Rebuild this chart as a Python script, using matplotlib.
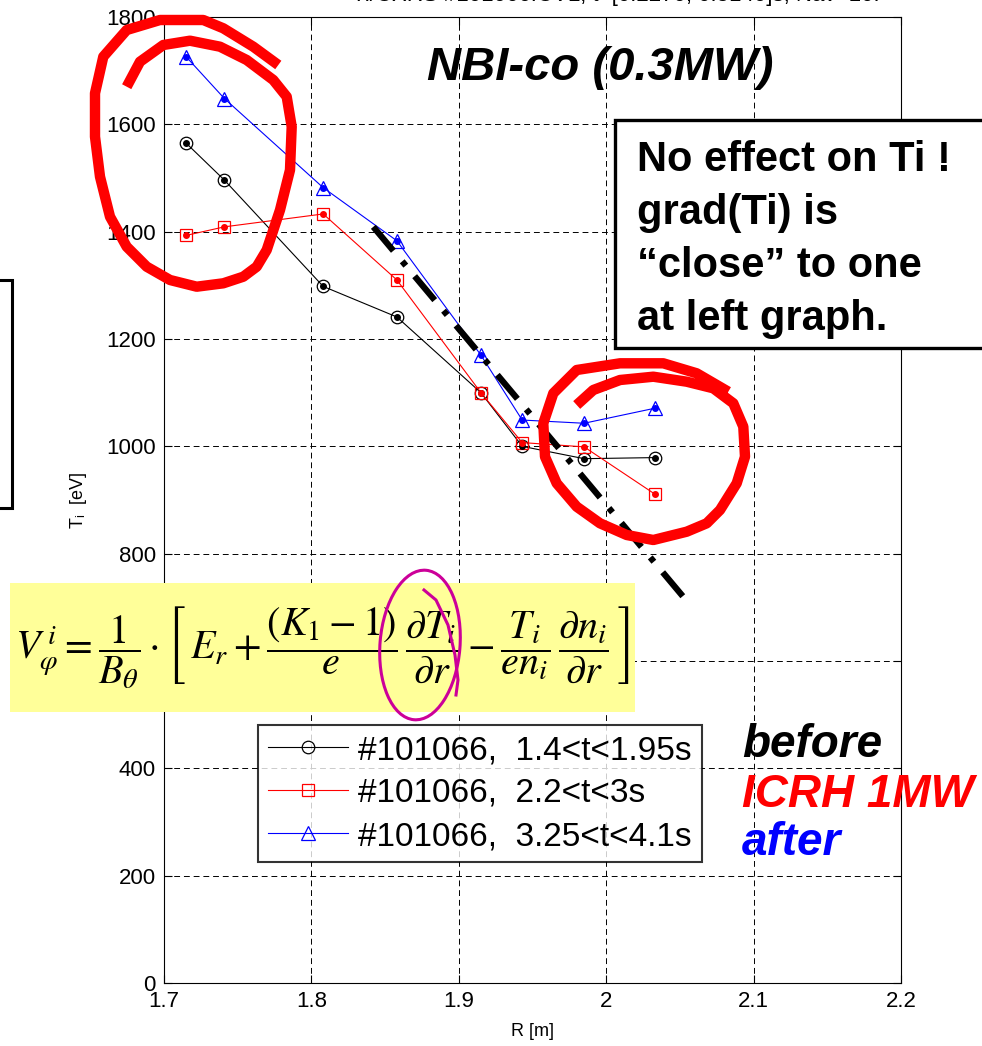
import numpy as np
import matplotlib
matplotlib.use("Agg")
import matplotlib.pyplot as plt
from matplotlib.patches import Rectangle, Ellipse
from matplotlib.lines import Line2D

plt.rcParams['font.family'] = ['Liberation Sans', 'DejaVu Sans']
plt.rcParams['mathtext.fontset'] = 'stix'

# radius positions [m]
R = [1.715, 1.741, 1.808, 1.858, 1.915, 1.943, 1.985, 2.033]

# Ti [eV] for the three time windows
Ti_before = [1565, 1496, 1298, 1241, 1100, 1000, 977, 979]
Ti_icrh = [1393, 1409, 1433, 1310, 1100, 1007, 999, 911]
Ti_after = [1726, 1648, 1482, 1383, 1170, 1049, 1043, 1071]

labels = ['#101066,  1.4<t<1.95s', '#101066,  2.2<t<3s', '#101066,  3.25<t<4.1s']

# hand drawn gradient guide (dash-dot)
guide_R = [1.842, 2.054]
guide_T = [1409, 714]

W, H = 982, 1046
fig = plt.figure(figsize=(W / 100, H / 100), dpi=100)
ax = fig.add_axes([164 / W, 1 - 983 / H, 737 / W, 966 / H])

ax.plot(R, Ti_before, '-', color='k', lw=0.8, marker='o', ms=9, mfc='none', mew=0.9, label=labels[0])
ax.plot(R, Ti_icrh, '-', color='r', lw=0.8, marker='s', ms=9, mfc='none', mew=0.9, label=labels[1])
ax.plot(R, Ti_after, '-', color='b', lw=0.8, marker='^', ms=10, mfc='none', mew=0.9, label=labels[2])
ax.plot(R, Ti_before, 'o', color='k', ms=4, zorder=4)
ax.plot(R, Ti_icrh, 'o', color='r', ms=4, zorder=4)
ax.plot(R, Ti_after, 'o', color='b', ms=4, zorder=4)

ax.plot(guide_R, guide_T, color='k', lw=4.5, linestyle=(0, (5, 2.2, 0.9, 2.2)), zorder=5)

ax.set_xlim(1.7, 2.2)
ax.set_ylim(0, 1800)
ax.set_xticks([1.7, 1.8, 1.9, 2.0, 2.1, 2.2])
ax.set_xticklabels(['1.7', '1.8', '1.9', '2', '2.1', '2.2'])
ax.set_yticks(np.arange(0, 1801, 200))
ax.tick_params(direction='in', length=6, labelsize=16, top=True, right=True, pad=6)
ax.grid(True, color='k', linestyle=(0, (6, 4)), lw=0.7)
for s in ax.spines.values():
    s.set_linewidth(0.8)
ax.set_xlabel('R [m]', fontsize=13, labelpad=8)
ax.set_ylabel('T$_\\mathregular{i}$  [eV]', fontsize=13, labelpad=12)

leg = ax.legend(loc='upper left', bbox_to_anchor=((258 - 164) / 737, (983 - 725) / 966),
                fontsize=24, frameon=True, fancybox=False, edgecolor='k',
                handlelength=2.4, handletextpad=0.3, labelspacing=0.36, borderpad=0.3,
                borderaxespad=0)
leg.get_frame().set_linewidth(1.5)

# text annotations
def fx(px):
    return px / W

def fy(py):
    return 1 - py / H

fig.text(fx(600), fy(68), 'NBI-co (0.3MW)', fontsize=34, fontweight='bold', style='italic',
         ha='center', va='center')
fig.text(fx(616), fy(-4), 'Ti/CXRS #101066.CVL, t=[0.2270, 0.5140]s, Nav=10.', fontsize=16,
         ha='center', va='center')

fig.patches.append(Rectangle((fx(615), fy(348)), fx(400), 228 / H, transform=fig.transFigure,
                             fill=True, fc='white', ec='k', lw=2.4, zorder=6))
notes = ['No effect on Ti !', 'grad(Ti) is', '\u201cclose\u201d to one', 'at left graph.']
for i, line in enumerate(notes):
    fig.text(fx(637), fy(160 + 53 * i), line, fontsize=30, fontweight='bold',
             ha='left', va='center', zorder=7)

fig.text(fx(742), fy(745), 'before', fontsize=33, fontweight='bold', style='italic', color='k', va='center')
fig.text(fx(742), fy(795), 'ICRH 1MW', fontsize=33, fontweight='bold', style='italic', color='r', va='center')
fig.text(fx(742), fy(843), 'after', fontsize=33, fontweight='bold', style='italic', color='b', va='center')

# partial box on the left edge
fig.patches.append(Rectangle((fx(-30), fy(508)), fx(42), 228 / H, transform=fig.transFigure,
                             fill=False, ec='k', lw=2.2))

# formula on yellow background
fig.patches.append(Rectangle((fx(10), fy(712)), fx(625), 129 / H, transform=fig.transFigure,
                             fc='#ffff99', ec='none', zorder=6))
formula = (r'$V_{\varphi}^{\,i}=\dfrac{1}{B_{\theta}}\cdot\left[\,E_{r}+\dfrac{(K_{1}-1)}{e}\,'
           r'\dfrac{\partial T_{i}}{\partial r}-\dfrac{T_{i}}{en_{i}}\,\dfrac{\partial n_{i}}{\partial r}\,\right]$')
fig.text(fx(322), fy(648), formula, fontsize=29, ha='center', va='center', zorder=7)
fig.patches.append(Ellipse((fx(420), fy(645)), 80 / W, 150 / H, angle=-5, transform=fig.transFigure,
                           fill=False, ec='#cc0099', lw=2.2, zorder=8))
mx = [424, 436, 448, 455, 458, 456]
my = [590, 600, 625, 655, 680, 695]
fig.lines.append(Line2D([fx(v) for v in mx], [fy(v) for v in my], transform=fig.transFigure,
                        color='#cc0099', lw=2.2, zorder=8))

# red hand drawn loops
lx = [126.7, 140, 163.3, 190, 220, 246.7, 273.3, 286.7, 291.7, 290, 280, 266.7, 256.7, 243.3, 223.3,
      196.7, 170, 146.7, 126.7, 110, 100, 95, 95, 103.3, 126.7, 160, 203.3, 223.3, 253.3, 278.3]
ly = [86.7, 61.7, 45, 40.7, 46.7, 60, 80, 96.7, 126.7, 170, 210, 250, 266.7, 276.7, 283.3,
      286.7, 280, 266.7, 246.7, 216.7, 176.7, 136.7, 93.3, 56.7, 30, 20, 20, 28.3, 46.7, 65]
rx = [576.7, 593.3, 620, 653.3, 686.7, 713.3, 733.3, 743.3, 745, 736.7, 720, 706.7, 686.7, 653.3,
      626.7, 600, 576.7, 556.7, 545, 543.3, 553.3, 576.7, 620, 663.3, 696.7, 728.3]
ry = [405, 390, 380, 376.7, 381.7, 388.3, 403.3, 426.7, 456.7, 483.3, 510, 523.3, 531.7, 540,
      535, 523.3, 506.7, 483.3, 456.7, 423.3, 393.3, 370, 363.3, 363.3, 373.3, 391.7]
for xs, ys in [(lx, ly), (rx, ry)]:
    fig.lines.append(Line2D([fx(v) for v in xs], [fy(v) for v in ys], transform=fig.transFigure,
                            color='red', lw=7.5, solid_capstyle='butt', solid_joinstyle='round', zorder=9))

fig.savefig('out.png', dpi=100)
